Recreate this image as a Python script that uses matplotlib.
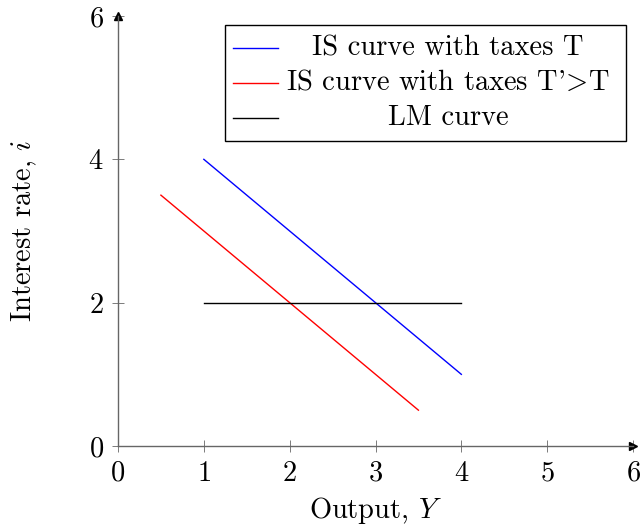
import matplotlib
matplotlib.use('Agg')
import matplotlib.pyplot as plt
from matplotlib.patches import Rectangle
from matplotlib.lines import Line2D

plt.rcParams['font.family'] = ['cmr10', 'DejaVu Serif']
plt.rcParams['mathtext.fontset'] = 'cm'
plt.rcParams['axes.formatter.use_mathtext'] = True
plt.rcParams['font.size'] = 20.5

# datos
is_x = [1, 4]
is_y = [4, 1]
is2_x = [0.5, 3.5]
is2_y = [3.5, 0.5]
lm_x = [1, 4]
lm_y = [2, 2]
ticks_x = [0, 1, 2, 3, 4, 5, 6]
ticks_y = [0, 2, 4, 6]
# espacio duro: el espacio normal de cmr10 sale demasiado ancho
sp = '\u00a0'
labels = ['IS curve with taxes T'.replace(' ', sp),
          "IS curve with taxes T'$\\!>\\!$T".replace(' ', sp),
          'LM curve'.replace(' ', sp)]
colores = ['#0000ff', '#ff0000', 'black']

fig = plt.figure(figsize=(6.43, 5.26), dpi=100)
ax = fig.add_axes([118/643, 80/526, 515/643, 430/526])

ax.plot(is_x, is_y, color=colores[0], lw=1.0)
ax.plot(is2_x, is2_y, color=colores[1], lw=1.0)
ax.plot(lm_x, lm_y, color=colores[2], lw=1.0)

ax.set_xlim(0, 6)
ax.set_ylim(0, 6)
ax.set_xticks(ticks_x)
ax.set_yticks(ticks_y)

# ejes tipo pgfplots
gris = '#666666'
for s in ['top', 'right']:
    ax.spines[s].set_visible(False)
for s in ['left', 'bottom']:
    ax.spines[s].set_color(gris)
    ax.spines[s].set_linewidth(1.0)
ax.tick_params(direction='inout', length=8.5, width=0.6, color=gris, pad=6)
ax.plot(1, 0, '>k', ms=6, transform=ax.get_yaxis_transform(), clip_on=False)
ax.plot(0, 1, '^k', ms=6, transform=ax.get_xaxis_transform(), clip_on=False)

ax.set_xlabel('Output,' + sp + '$Y$')
ax.set_ylabel('Interest' + sp + 'rate,' + sp + '$i$')
ax.xaxis.set_label_coords(0.5, -0.115)
ax.yaxis.set_label_coords(-0.153, 0.5)

# leyenda dibujada a mano (texto centrado como en pgfplots)
ax.add_patch(Rectangle((0.2078, 0.7093), 0.7786, 0.2697, transform=ax.transAxes,
                       fill=True, facecolor='white', edgecolor='black', lw=1.0,
                       zorder=5, clip_on=False))
filas = [0.9256, 0.8442, 0.7628]
for lab, c, yy in zip(labels, colores, filas):
    ax.add_line(Line2D([0.2233, 0.3107], [yy, yy], color=c, lw=1.0,
                       transform=ax.transAxes, zorder=6))
    ax.text(0.6408, yy, lab, transform=ax.transAxes, ha='center', va='center', zorder=6)

fig.savefig('out.png', dpi=100)
